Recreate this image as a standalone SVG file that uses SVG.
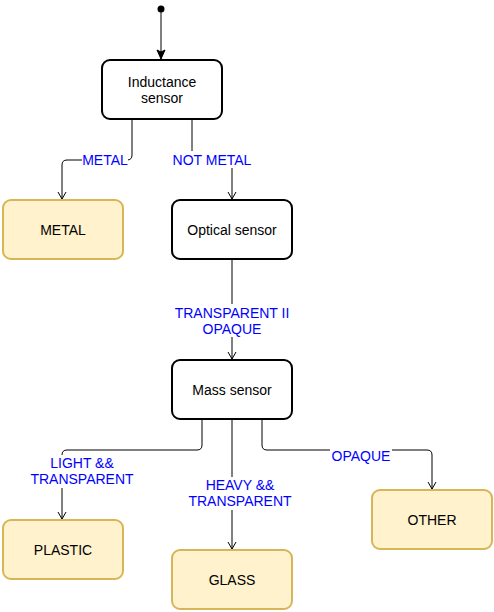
<svg xmlns="http://www.w3.org/2000/svg" width="494" height="612" viewBox="0 0 494 612">
<style>
.n{fill:#ffffff;stroke:#000000;stroke-width:2}
.y{fill:#fff2cc;stroke:#d6b656;stroke-width:2}
.t{font-family:"Liberation Sans",Arial,sans-serif;font-size:14px;fill:#000000;text-anchor:middle;dominant-baseline:central}
.l{font-family:"Liberation Sans",Arial,sans-serif;font-size:14px;fill:#0000ff;text-anchor:middle;dominant-baseline:central}
.e{fill:none;stroke:#000000;stroke-width:1}
.bg{fill:#ffffff}
</style>
<defs>
<marker id="a" markerWidth="10" markerHeight="10" refX="8" refY="5" orient="auto" markerUnits="userSpaceOnUse">
<path d="M1,1 L8,5 L1,9" fill="none" stroke="#000000" stroke-width="1"/>
</marker>
<marker id="f" markerWidth="12" markerHeight="12" refX="10" refY="6" orient="auto" markerUnits="userSpaceOnUse">
<path d="M1,2 L10,6 L1,10 L3,6 Z" fill="#000000" stroke="#000000" stroke-width="1"/>
</marker>
</defs>
<g id="connectors">
<circle cx="161" cy="9" r="3.5" fill="#000000"/>
<path class="e" d="M161,12 L161,59" marker-end="url(#f)"/>
<path class="e" d="M132,120 L132,155 Q132,160 127,160 L67,160 Q62,160 62,165 L62,199" marker-end="url(#a)"/>
<path class="e" d="M192,120 L192,160 L232,160 L232,199" marker-end="url(#a)"/>
<path class="e" d="M232,260 L232,359" marker-end="url(#a)"/>
<path class="e" d="M202,420 L202,445 Q202,450 197,450 L67,450 Q62,450 62,455 L62,519" marker-end="url(#a)"/>
<path class="e" d="M232,420 L232,549" marker-end="url(#a)"/>
<path class="e" d="M262,420 L262,445 Q262,450 267,450 L427,450 Q432,450 432,455 L432,489" marker-end="url(#a)"/>
<rect class="bg" x="82" y="152" width="46" height="16"/>
<text class="l" x="105" y="160">METAL</text>
<rect class="bg" x="171" y="151" width="82" height="17"/>
<text class="l" x="212" y="160">NOT METAL</text>
<rect class="bg" x="172" y="304" width="120" height="33"/>
<text class="l" x="232" y="313">TRANSPARENT II</text>
<text class="l" x="232" y="329">OPAQUE</text>
<rect class="bg" x="30" y="455" width="105" height="33"/>
<text class="l" x="82" y="463">LIGHT &amp;&amp;</text>
<text class="l" x="82" y="479">TRANSPARENT</text>
<rect class="bg" x="187" y="477" width="106" height="33"/>
<text class="l" x="240" y="485">HEAVY &amp;&amp;</text>
<text class="l" x="240" y="501">TRANSPARENT</text>
<rect class="bg" x="330" y="448" width="62" height="16"/>
<text class="l" x="361" y="456">OPAQUE</text>
</g>
<g id="inductance">
<rect class="n" x="102" y="60" width="120" height="59" rx="8"/>
<text class="t" x="162" y="82">Inductance</text>
<text class="t" x="162" y="98">sensor</text>
</g>
<g id="metal">
<rect class="y" x="3" y="200" width="120" height="59" rx="8"/>
<text class="t" x="63" y="230">METAL</text>
</g>
<g id="optical">
<rect class="n" x="172" y="200" width="120" height="59" rx="8"/>
<text class="t" x="232" y="230">Optical sensor</text>
</g>
<g id="mass">
<rect class="n" x="172" y="360" width="120" height="59" rx="8"/>
<text class="t" x="232" y="390">Mass sensor</text>
</g>
<g id="plastic">
<rect class="y" x="3" y="520" width="120" height="59" rx="8"/>
<text class="t" x="63" y="550">PLASTIC</text>
</g>
<g id="glass">
<rect class="y" x="172" y="550" width="120" height="59" rx="8"/>
<text class="t" x="232" y="580">GLASS</text>
</g>
<g id="other">
<rect class="y" x="372" y="490" width="120" height="59" rx="8"/>
<text class="t" x="432" y="520">OTHER</text>
</g>
</svg>
